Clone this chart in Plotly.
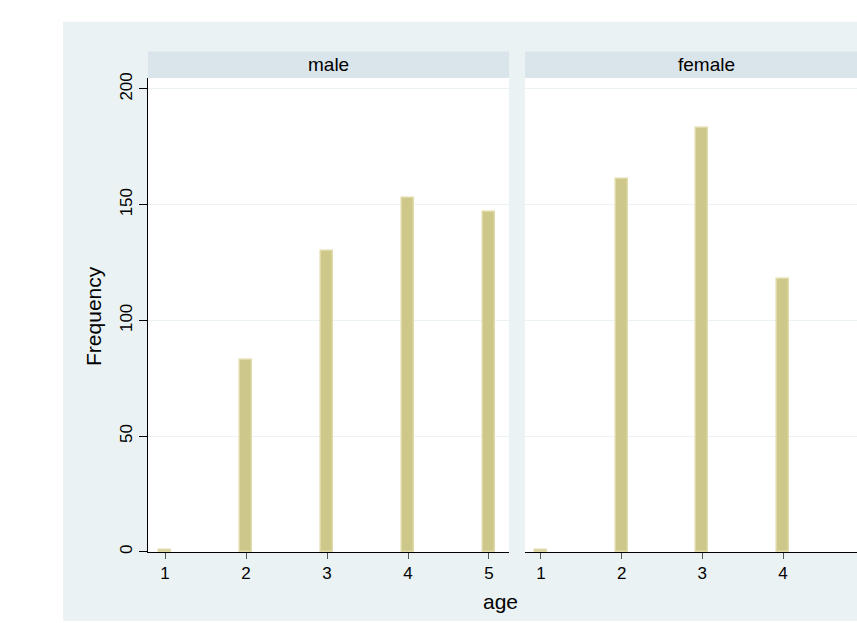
import plotly.graph_objects as go

ages = [1, 2, 3, 4, 5]
male_freq = [1, 83, 130, 153, 147]
female_ages = [1, 2, 3, 4]
female_freq = [1, 161, 183, 118]
panel_titles = ["male", "female"]
y_ticks = [0, 50, 100, 150, 200]
x_ticks = [1, 2, 3, 4, 5]

W, H = 857, 623
BG = "#EAF2F3"
STRIP = "#D9E5EA"
BAR = "#CEC78A"
BAR_EDGE = "#DFDAA8"
FONT = "Liberation Sans, Arial, sans-serif"

def px(x):
    return x / W

def py(y):
    return (H - y) / H

fig = go.Figure()
fig.add_trace(go.Bar(x=ages, y=male_freq, width=0.15, marker=dict(color=BAR, line=dict(color=BAR_EDGE, width=1.5)),
                     xaxis="x", yaxis="y", showlegend=False))
fig.add_trace(go.Bar(x=female_ages, y=female_freq, width=0.15, marker=dict(color=BAR, line=dict(color=BAR_EDGE, width=1.5)),
                     xaxis="x2", yaxis="y2", showlegend=False))

ydom = [py(553), py(73)]
yr = [0, 204.7]
common_x = dict(tickmode="array", tickvals=x_ticks, ticks="outside", ticklen=6, tickcolor="#555555",
                showline=True, linecolor="black", linewidth=1, showgrid=False, zeroline=False,
                tickfont=dict(family=FONT, size=17, color="black"))
fig.update_layout(
    width=W, height=H, margin=dict(l=0, r=0, t=0, b=0),
    paper_bgcolor="white", plot_bgcolor="rgba(0,0,0,0)",
    bargap=0,
    xaxis=dict(domain=[px(148), px(509)], range=[0.79, 5.247], anchor="y", **common_x),
    xaxis2=dict(domain=[px(525), 1.0], range=[0.802, 4.917], anchor="y2", **common_x),
    yaxis=dict(domain=ydom, range=yr, anchor="x", tickmode="array", tickvals=y_ticks, ticks="outside",
               ticklen=8, tickcolor="black", tickangle=-90, showline=True, linecolor="black", linewidth=1,
               showgrid=True, gridcolor=BG, gridwidth=1, zeroline=False,
               tickfont=dict(family=FONT, size=17, color="black")),
    yaxis2=dict(domain=ydom, range=yr, anchor="x2", tickmode="array", tickvals=y_ticks, showticklabels=False,
                ticks="", showline=False, showgrid=True, gridcolor=BG, gridwidth=1, zeroline=False),
)

shapes = [
    dict(type="rect", xref="paper", yref="paper", x0=px(63), x1=1.0, y0=0, y1=py(16),
         fillcolor=BG, line=dict(width=0), layer="below"),
    dict(type="rect", xref="paper", yref="paper", x0=px(148), x1=px(509), y0=ydom[0], y1=ydom[1],
         fillcolor="white", line=dict(width=0), layer="below"),
    dict(type="rect", xref="paper", yref="paper", x0=px(525), x1=1.0, y0=ydom[0], y1=ydom[1],
         fillcolor="white", line=dict(width=0), layer="below"),
    dict(type="rect", xref="paper", yref="paper", x0=px(148), x1=px(509), y0=py(73), y1=py(46),
         fillcolor=STRIP, line=dict(width=0), layer="below"),
    dict(type="rect", xref="paper", yref="paper", x0=px(525), x1=1.0, y0=py(73), y1=py(46),
         fillcolor=STRIP, line=dict(width=0), layer="below"),
]
fig.update_layout(shapes=shapes)

ann = [
    dict(text=panel_titles[0], x=px(328), y=py(59), xref="paper", yref="paper", showarrow=False,
         font=dict(family=FONT, size=19, color="black"), xanchor="center", yanchor="middle"),
    dict(text=panel_titles[1], x=px(706), y=py(59), xref="paper", yref="paper", showarrow=False,
         font=dict(family=FONT, size=19, color="black"), xanchor="center", yanchor="middle"),
    dict(text="Frequency", x=px(94), y=py(314), xref="paper", yref="paper", showarrow=False, textangle=-90,
         font=dict(family=FONT, size=21, color="black"), xanchor="center", yanchor="middle"),
    dict(text="age", x=px(500), y=py(603), xref="paper", yref="paper", showarrow=False,
         font=dict(family=FONT, size=21, color="black"), xanchor="center", yanchor="middle"),
]
fig.update_layout(annotations=ann)

fig.write_html(
    "out.html",
    config={"displayModeBar": False},
    post_script="document.body.style.margin='0';document.body.style.overflow='hidden';",
)
